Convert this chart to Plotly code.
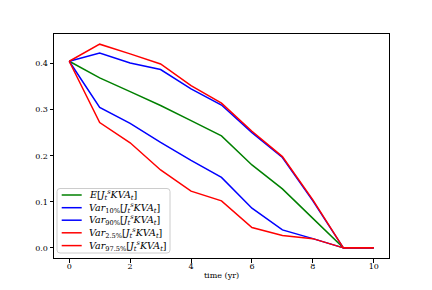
import plotly.graph_objects as go

t = [0, 1, 2, 3, 4, 5, 6, 7, 8, 9, 10]
expected = [0.405, 0.369, 0.339, 0.309, 0.276, 0.243, 0.180, 0.128, 0.064, 0.0, 0.0]
var10 = [0.405, 0.305, 0.270, 0.229, 0.190, 0.153, 0.086, 0.039, 0.020, 0.0, 0.0]
var90 = [0.405, 0.423, 0.401, 0.387, 0.345, 0.310, 0.250, 0.196, 0.102, 0.0, 0.0]
var2_5 = [0.405, 0.272, 0.228, 0.169, 0.123, 0.102, 0.044, 0.027, 0.020, 0.0, 0.0]
var97_5 = [0.405, 0.442, 0.421, 0.399, 0.352, 0.314, 0.253, 0.198, 0.104, 0.0, 0.0]

lbl = "[<i>J</i><sub><i>t</i></sub><sup><i>s</i></sup><i>KVA</i><sub><i>t</i></sub>]"
series = [
    ("<i>E</i>" + lbl, expected, "#008000"),
    ("<i>Var</i><sub>10%</sub>" + lbl, var10, "#0000ff"),
    ("<i>Var</i><sub>90%</sub>" + lbl, var90, "#0000ff"),
    ("<i>Var</i><sub>2.5%</sub>" + lbl, var2_5, "#ff0000"),
    ("<i>Var</i><sub>97.5%</sub>" + lbl, var97_5, "#ff0000"),
]

W, H = 432, 290
L, R, T, B = 54, 43, 34, 32
PW, PH = W - L - R, H - T - B


def px(x):
    return (x - L) / PW


def py(y):
    return (H - B - y) / PH


fig = go.Figure()
for name, ys, c in series:
    fig.add_trace(go.Scatter(x=t, y=ys, mode="lines", name=name, showlegend=False,
                             line=dict(color=c, width=1.5)))

font_family = "DejaVu Serif"

# hand-built legend box (matplotlib style, compact rows)
bx0, bx1, by0, by1, r = 57, 170, 188.5, 253, 3
x0, x1, y0, y1 = px(bx0), px(bx1), py(by1), py(by0)
rx, ry = r / PW, r / PH
path = (f"M {x0+rx},{y0} L {x1-rx},{y0} Q {x1},{y0} {x1},{y0+ry} "
        f"L {x1},{y1-ry} Q {x1},{y1} {x1-rx},{y1} L {x0+rx},{y1} "
        f"Q {x0},{y1} {x0},{y1-ry} L {x0},{y0+ry} Q {x0},{y0} {x0+rx},{y0} Z")
shapes = [dict(type="path", xref="paper", yref="paper", path=path,
               fillcolor="rgba(255,255,255,0.8)", line=dict(color="#cccccc", width=1),
               layer="above")]
annotations = []
row_y = [195, 207.7, 220.2, 232.8, 245.6]
for (name, _, c), ry_ in zip(series, row_y):
    shapes.append(dict(type="line", xref="paper", yref="paper",
                       x0=px(61.7), x1=px(81.7), y0=py(ry_), y1=py(ry_),
                       line=dict(color=c, width=1.5), layer="above"))
    annotations.append(dict(xref="paper", yref="paper", x=px(86.5), y=py(ry_),
                            xanchor="left", yanchor="middle", showarrow=False,
                            text=name, font=dict(size=9.5, family=font_family, color="black")))

fig.update_layout(
    width=W, height=H,
    margin=dict(l=L, r=R, t=T, b=B),
    paper_bgcolor="white", plot_bgcolor="white",
    font=dict(family=font_family, size=8, color="black"),
    showlegend=False,
    shapes=shapes,
    annotations=annotations,
    xaxis=dict(range=[-0.5, 10.5], tickvals=[0, 2, 4, 6, 8, 10],
               showgrid=False, zeroline=False, showline=True, mirror=True,
               linecolor="black", linewidth=1, ticks="outside", ticklen=3.5,
               tickcolor="black", ticklabelstandoff=-3,
               title=dict(text="time (yr)", font=dict(size=8, family=font_family), standoff=2)),
    yaxis=dict(range=[-0.022, 0.4641], tickvals=[0.0, 0.1, 0.2, 0.3, 0.4],
               tickformat=".1f",
               showgrid=False, zeroline=False, showline=True, mirror=True,
               linecolor="black", linewidth=1, ticks="outside", ticklen=3.5,
               tickcolor="black"),
)

fig.write_html("out.html", config={"displayModeBar": False},
               post_script="document.body.style.margin='0';document.body.style.padding='0';")
